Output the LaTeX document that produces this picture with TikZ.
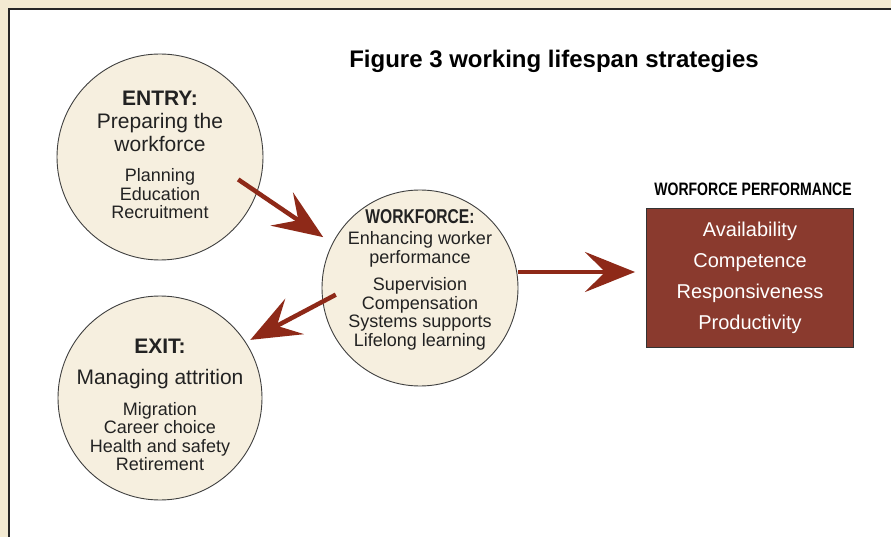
\documentclass[tikz,border=0pt]{standalone}
\usepackage{fontspec}
\setmainfont{Liberation Sans}
\newfontfamily\condfont[FakeStretch=0.78]{Liberation Sans}
\usetikzlibrary{arrows.meta}
\definecolor{cream}{HTML}{F3EAD2}
\definecolor{circfill}{HTML}{F6EFDF}
\definecolor{boxred}{HTML}{8A3A2E}
\definecolor{arrowred}{HTML}{8E2918}
\definecolor{inkgray}{HTML}{222222}

\begin{document}
\begin{tikzpicture}[x=1pt,y=-1pt]
	\tikzset{stage/.style={circle, draw=black!75, fill=circfill, line width=0.9pt, inner sep=0pt},
		stagetext/.style={align=center, text=inkgray, inner sep=0pt, font=\fontsize{18}{18.5}\selectfont},
		push/.style={draw=arrowred, line width=4.5pt, -{Stealth[length=50pt,width=40pt,inset=20pt,fill=arrowred]}}};
	\useasboundingbox (0,0) rectangle (891,537);
	\fill[cream] (0,0) rectangle (891,537);
	\filldraw[fill=white, draw=black!85, line width=2pt] (8.5,9.5) rectangle (900,545);

	\node[font=\bfseries\fontsize{24}{26}\selectfont] (title) at (554,61) {Figure 3 working lifespan strategies};

	% the three stages
	\node[stage, minimum size=206pt] (entry) at (160,157) {};
	\node[stage, minimum size=196pt] (workforce) at (420,288) {};
	\node[stage, minimum size=204pt] (exit) at (160,398) {};

	\node[stagetext] (entrytext) at (160,155) {{\bfseries\fontsize{21}{22}\selectfont ENTRY:}\\[5pt]
		{\fontsize{21}{22}\selectfont Preparing the}\\[2pt]
		{\fontsize{21}{22}\selectfont workforce}\\[12pt]
		Planning\\ Education\\ Recruitment};
	\node[stagetext] (workforcetext) at (420,279.5) {{\condfont\bfseries\fontsize{20}{21}\selectfont WORKFORCE:}\\[3pt]
		Enhancing worker\\ performance\\[9pt]
		Supervision\\ Compensation\\ Systems supports\\ Lifelong learning};
	\node[stagetext] (exittext) at (160,405) {{\bfseries\fontsize{21}{22}\selectfont EXIT:}\\[12.5pt]
		{\fontsize{21}{22}\selectfont Managing attrition}\\[12pt]
		Migration\\ Career choice\\ Health and safety\\ Retirement};

	% outcome box
	\node[font=\condfont\bfseries\fontsize{18}{18}\selectfont] (perftitle) at (753,189) {WORFORCE PERFORMANCE};
	\node[draw=black!80, fill=boxred, line width=0.9pt, minimum width=207pt, minimum height=139pt, text=white, align=center, font=\fontsize{20}{31}\selectfont] (perf) at (750,277.5) {Availability\\ Competence\\ Responsiveness\\ Productivity};

	\draw[push, shorten <=-23pt, shorten >=11pt] (entry.-20) -- (workforce.153);
	\draw[push, shorten <=-15pt, shorten >=5pt] (workforce.188) -- (exit.33);
	\draw[push, shorten >=11pt] ([yshift=5.5pt]perf.west -| workforce.east) -- ([yshift=5.5pt]perf.west);
\end{tikzpicture}
\end{document}
